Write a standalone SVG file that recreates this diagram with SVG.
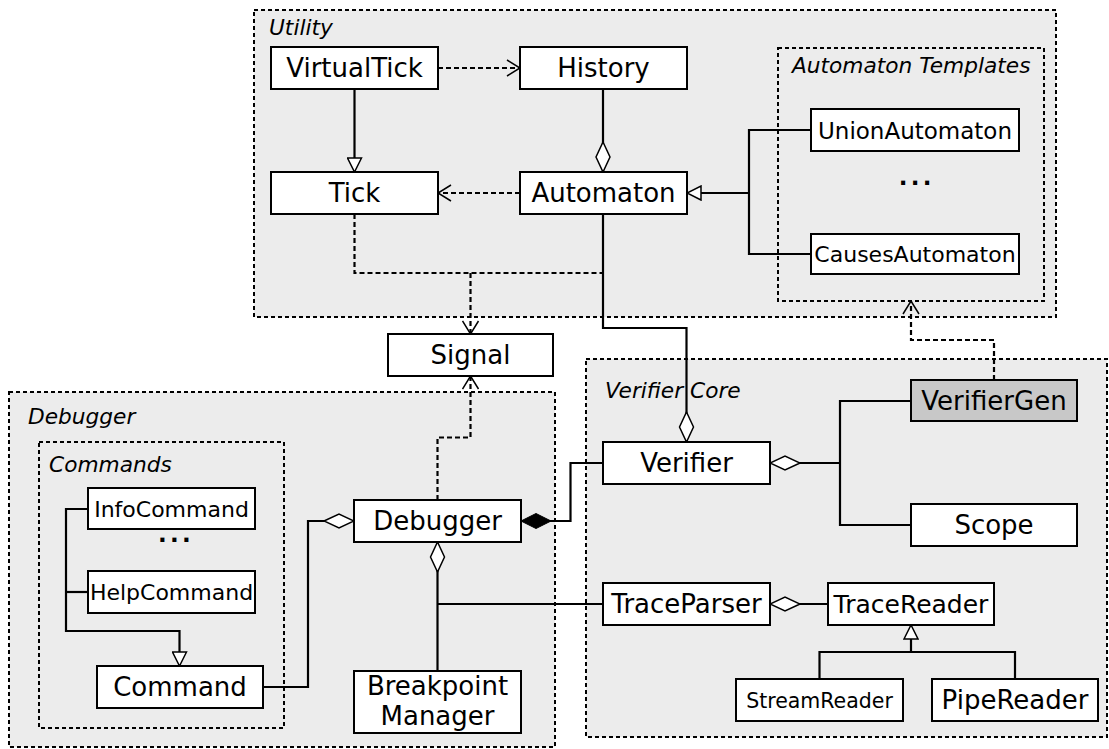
<svg xmlns="http://www.w3.org/2000/svg" width="1109" height="749" viewBox="0 0 1109 749">
<style>
.grp{fill:#ececec;stroke:#000;stroke-width:2;stroke-dasharray:4,3}
.box{fill:#fff;stroke:#000;stroke-width:2}
.gen{fill:#c8c8c8;stroke:#000;stroke-width:2}
.t{font-family:"DejaVu Sans",sans-serif;font-size:26px;fill:#000;text-anchor:middle}
.gl{font-family:"DejaVu Sans",sans-serif;font-size:21.7px;font-style:italic;fill:#000}
.dots{font-family:"DejaVu Sans",sans-serif;font-size:23px;font-weight:bold;fill:#000;letter-spacing:3.3px}
.c{fill:none;stroke:#000;stroke-width:2.2}
.d{fill:none;stroke:#000;stroke-width:2.2;stroke-dasharray:5,3}
</style>
<defs>
<marker id="open" viewBox="0 0 15 18" refX="14" refY="9" markerWidth="15" markerHeight="18" markerUnits="userSpaceOnUse" orient="auto">
<path d="M1,1 L14,9 L1,17" fill="none" stroke="#000" stroke-width="1.5"/>
</marker>
<marker id="tri" viewBox="0 0 16 16" refX="15" refY="8" markerWidth="16" markerHeight="16" markerUnits="userSpaceOnUse" orient="auto">
<path d="M1,1 L15,8 L1,15 Z" fill="#fff" stroke="#000" stroke-width="1.5"/>
</marker>
<marker id="dia" viewBox="0 0 32 18" refX="31" refY="9" markerWidth="32" markerHeight="18" markerUnits="userSpaceOnUse" orient="auto">
<path d="M1,9 L16,2 L31,9 L16,16 Z" fill="#fff" stroke="#000" stroke-width="1.5"/>
</marker>
<marker id="fdia" viewBox="0 0 32 18" refX="31" refY="9" markerWidth="32" markerHeight="18" markerUnits="userSpaceOnUse" orient="auto">
<path d="M1,9 L16,1.5 L31,9 L16,16.5 Z" fill="#000" stroke="#000" stroke-width="1"/>
</marker>
</defs>
<rect width="1109" height="749" fill="#fff"/>

<g id="group-utility">
<rect class="grp" x="254" y="10" width="802" height="307"/>
<text class="gl" x="269" y="35">Utility</text>
</g>
<g id="group-templates">
<rect class="grp" x="778" y="48" width="266" height="253"/>
<text class="gl" x="792" y="73">Automaton Templates</text>
<text class="dots" x="898.7" y="185.3">...</text>
</g>
<g id="group-debugger">
<rect class="grp" x="9" y="392" width="546" height="355"/>
<text class="gl" x="28" y="424">Debugger</text>
</g>
<g id="group-commands">
<rect class="grp" x="39" y="442" width="245" height="286"/>
<text class="gl" x="49" y="472">Commands</text>
<text class="dots" x="158" y="541.7">...</text>
</g>
<g id="group-verifier-core">
<rect class="grp" x="586" y="359" width="521" height="378"/>
<text class="gl" x="605" y="398">Verifier Core</text>
</g>

<g id="connectors">
<path class="d" d="M438,68 H520" marker-end="url(#open)"/>
<path class="c" d="M354.5,89 V172" marker-end="url(#tri)"/>
<path class="c" d="M603,89 V172" marker-end="url(#dia)"/>
<path class="d" d="M520,193 H438" marker-end="url(#open)"/>
<path class="c" d="M811,130 H749 V254 H811"/>
<path class="c" d="M749,193 H687" marker-end="url(#tri)"/>
<path class="d" d="M354.5,214 V273 H603"/>
<path class="d" d="M470.5,273 V334" marker-end="url(#open)"/>
<path class="c" d="M603,214 V328 H686.5 V442" marker-end="url(#dia)"/>
<path class="d" d="M994,380 V340 H911 V301" marker-end="url(#open)"/>
<path class="d" d="M437.5,500 V437.5 H470.5 V376" marker-end="url(#open)"/>
<path class="c" d="M263,687 H308 V521 H354" marker-end="url(#dia)"/>
<path class="c" d="M88,509 H66 V631 H179.5 V666" marker-end="url(#tri)"/>
<path class="c" d="M88,592 H66"/>
<path class="c" d="M437.5,671 V542" marker-end="url(#dia)"/>
<path class="c" d="M603,604 H437.5"/>
<path class="c" d="M603,463 H570.5 V521 H521" marker-end="url(#fdia)"/>
<path class="c" d="M911,401 H840 V525 H911"/>
<path class="c" d="M840,463 H770" marker-end="url(#dia)"/>
<path class="c" d="M828,604 H770" marker-end="url(#dia)"/>
<path class="c" d="M819.5,679 V652 H1015 V679"/>
<path class="c" d="M911,652 V625" marker-end="url(#tri)"/>
</g>

<g id="node-virtualtick"><rect class="box" x="271" y="47" width="167" height="42"/><text class="t" x="354.5" y="77">VirtualTick</text></g>
<g id="node-history"><rect class="box" x="520" y="47" width="167" height="42"/><text class="t" x="603.5" y="77">History</text></g>
<g id="node-tick"><rect class="box" x="271" y="172" width="167" height="42"/><text class="t" x="354.5" y="202">Tick</text></g>
<g id="node-automaton"><rect class="box" x="520" y="172" width="167" height="42"/><text class="t" x="603.5" y="202">Automaton</text></g>
<g id="node-unionautomaton"><rect class="box" x="811" y="109" width="208" height="42"/><text class="t" x="915" y="138.5" style="font-size:23px">UnionAutomaton</text></g>
<g id="node-causesautomaton"><rect class="box" x="811" y="234" width="208" height="40"/><text class="t" x="915" y="262" style="font-size:22px">CausesAutomaton</text></g>
<g id="node-signal"><rect class="box" x="388" y="334" width="165" height="42"/><text class="t" x="470.5" y="364">Signal</text></g>
<g id="node-infocommand"><rect class="box" x="88" y="488" width="167" height="41"/><text class="t" x="171.5" y="516.5" style="font-size:22px">InfoCommand</text></g>
<g id="node-helpcommand"><rect class="box" x="88" y="571" width="167" height="42"/><text class="t" x="171.5" y="600" style="font-size:22px">HelpCommand</text></g>
<g id="node-command"><rect class="box" x="97" y="666" width="166" height="42"/><text class="t" x="180" y="696">Command</text></g>
<g id="node-debugger"><rect class="box" x="354" y="500" width="167" height="42"/><text class="t" x="437.5" y="530">Debugger</text></g>
<g id="node-breakpointmanager"><rect class="box" x="354" y="671" width="167" height="62"/><text class="t" x="437.5" y="695">Breakpoint</text><text class="t" x="437.5" y="725">Manager</text></g>
<g id="node-verifier"><rect class="box" x="603" y="442" width="167" height="42"/><text class="t" x="686.5" y="472">Verifier</text></g>
<g id="node-verifiergen"><rect class="gen" x="911" y="380" width="166" height="41"/><text class="t" x="994" y="409.5">VerifierGen</text></g>
<g id="node-scope"><rect class="box" x="911" y="504" width="166" height="42"/><text class="t" x="994" y="534">Scope</text></g>
<g id="node-traceparser"><rect class="box" x="603" y="583" width="167" height="42"/><text class="t" x="686.5" y="613">TraceParser</text></g>
<g id="node-tracereader"><rect class="box" x="828" y="583" width="166" height="42"/><text class="t" x="911" y="613" style="font-size:25px">TraceReader</text></g>
<g id="node-streamreader"><rect class="box" x="736" y="679" width="167" height="42"/><text class="t" x="819.5" y="707.5" style="font-size:20.5px">StreamReader</text></g>
<g id="node-pipereader"><rect class="box" x="932" y="679" width="166" height="42"/><text class="t" x="1015" y="709">PipeReader</text></g>
</svg>
